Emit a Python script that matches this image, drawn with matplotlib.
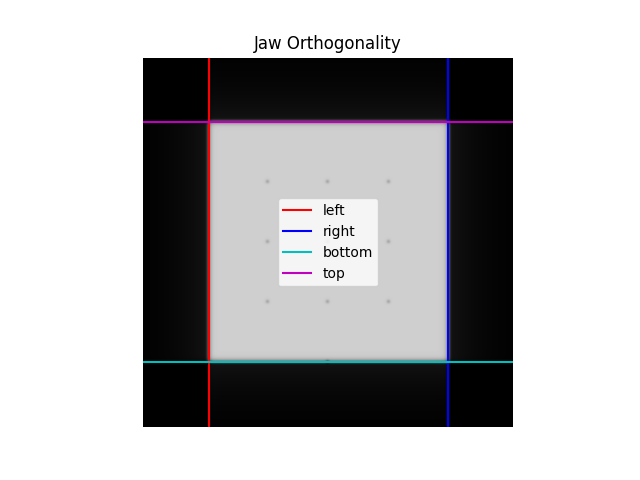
import matplotlib
matplotlib.use('Agg')
import matplotlib.pyplot as plt
import numpy as np

# image size (pixels) and measured jaw edges
img_size = 370
jaw_labels = ['left', 'right', 'bottom', 'top']
jaw_colors = ['r', 'b', 'c', 'm']
jaw_pos = [65, 305, 304, 64]   # left/right are x, bottom/top are y

field_level = 0.81
scatter_level = 0.10
scatter_len = 35.0
penumbra = 1.5

# BB marker positions (x, y)
bb_x = [124, 184, 245, 124, 184, 245, 124, 184, 245, 184]
bb_y = [124, 124, 124, 184, 184, 184, 244, 244, 244, 304]


def profile(coord, lo, hi):
    d = np.maximum(lo - coord, coord - hi)
    inside = 1.0 / (1.0 + np.exp(d / penumbra))
    outside = scatter_level * np.exp(-np.clip(d, 0, None) / scatter_len)
    return np.maximum(inside, outside)


c = np.arange(img_size)
px = profile(c, jaw_pos[0], jaw_pos[1])
py = profile(c, jaw_pos[3], jaw_pos[2])
img = field_level * np.outer(py, px)

yy, xx = np.mgrid[0:img_size, 0:img_size]
for bx, by in zip(bb_x, bb_y):
    img -= 0.15 * np.exp(-((xx - bx) ** 2 + (yy - by) ** 2) / (2 * 1.4 ** 2))

fig, ax = plt.subplots(figsize=(6.4, 4.8), dpi=100)
ax.imshow(img, cmap='gray', vmin=0, vmax=1)
ax.axvline(jaw_pos[0], color=jaw_colors[0], label=jaw_labels[0])
ax.axvline(jaw_pos[1], color=jaw_colors[1], label=jaw_labels[1])
ax.axhline(jaw_pos[2], color=jaw_colors[2], label=jaw_labels[2])
ax.axhline(jaw_pos[3], color=jaw_colors[3], label=jaw_labels[3])
ax.legend(loc='center')
ax.set_title('Jaw Orthogonality')
ax.axis('off')

plt.savefig('out.png')
